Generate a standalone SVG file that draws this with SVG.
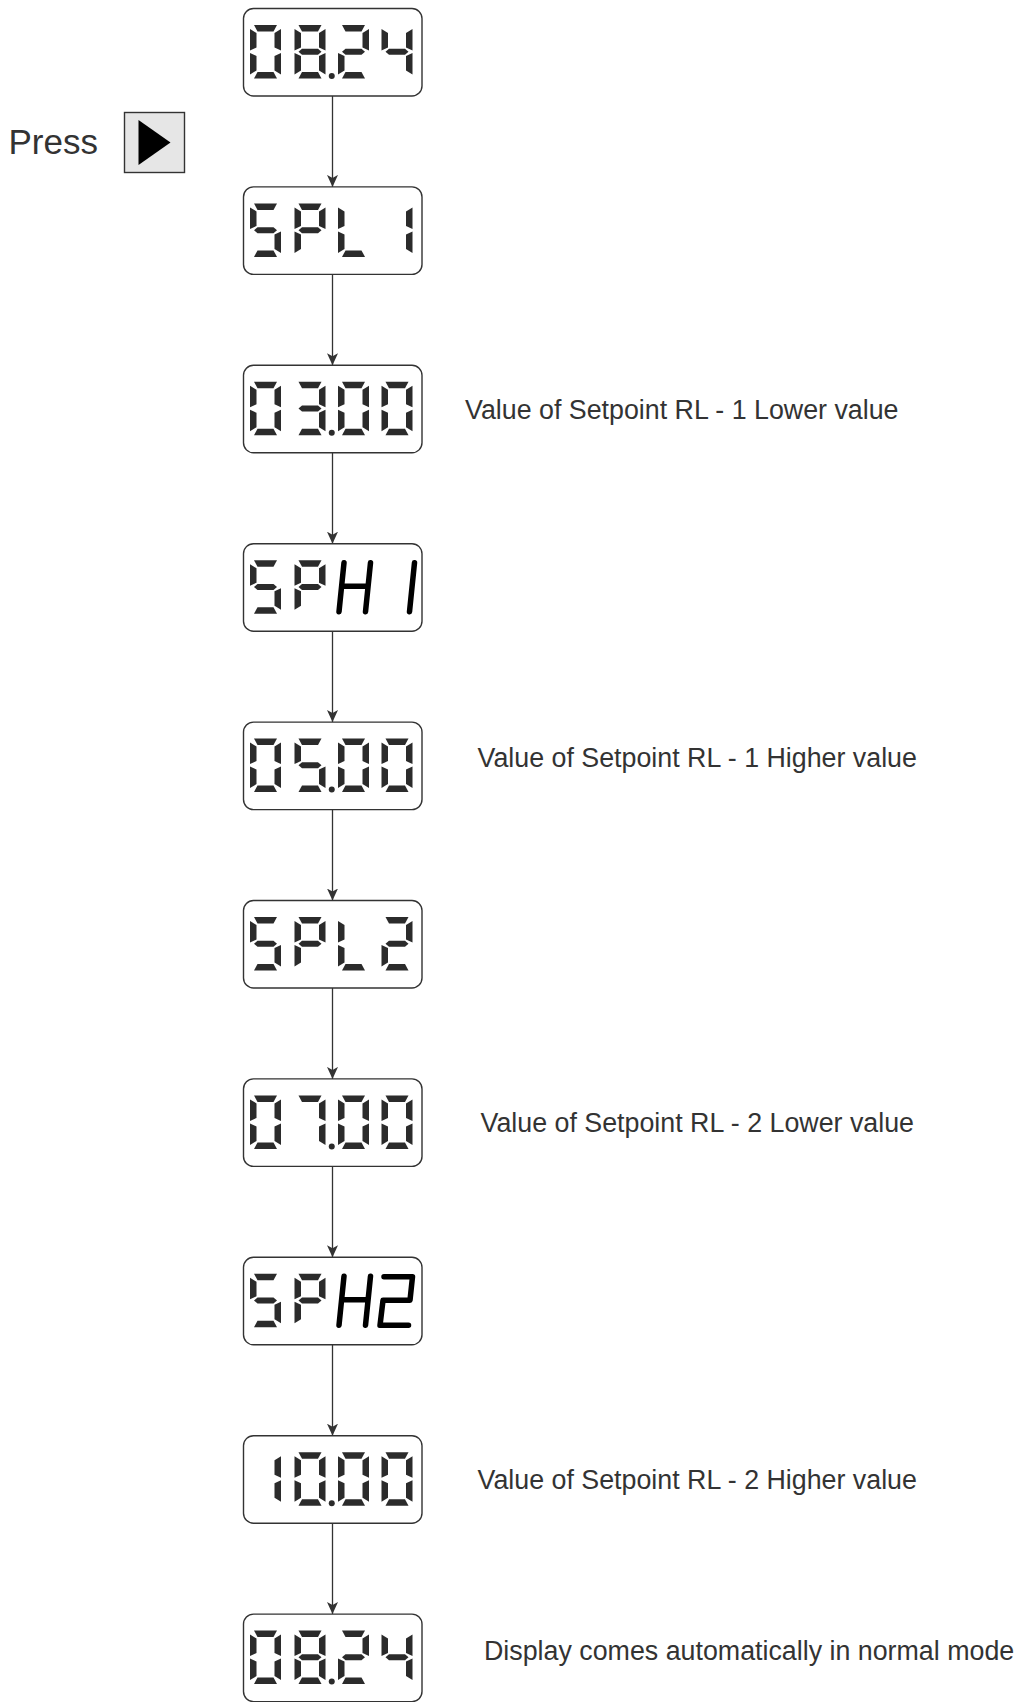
<svg xmlns="http://www.w3.org/2000/svg" xmlns:xlink="http://www.w3.org/1999/xlink" width="1019" height="1702" viewBox="0 0 1019 1702">
<style>
.box{fill:#fff;stroke:#333;stroke-width:1.4}
.seg{fill:#2b2b2b}
.ital{fill:none;stroke:#000;stroke-width:5.5;stroke-linecap:round;stroke-linejoin:round}
.conn{stroke:#333;stroke-width:1.3;fill:none}
.lbl{font-family:"Liberation Sans",Arial,sans-serif;font-size:26.8px;fill:#333}
.press{font-family:"Liberation Sans",Arial,sans-serif;font-size:35px;fill:#333}
</style>
<defs>
<marker id="arr" markerUnits="userSpaceOnUse" markerWidth="12" markerHeight="12" viewBox="0 0 12 12" refX="12" refY="6" orient="auto">
<path d="M0,0.5 L12,6 L0,11.5 L3,6 z" fill="#333"/>
</marker>
<polygon id="sa" class="seg" points="4,0 27,0 23.5,6.5 7.5,6.5"/>
<polygon id="sb" class="seg" points="31,4 31,25.5 24.5,22.5 24.5,8"/>
<polygon id="sc" class="seg" points="31,28 31,49.5 24.5,45.5 24.5,31"/>
<polygon id="sd" class="seg" points="7.5,47 23.5,47 27,53.5 4,53.5"/>
<polygon id="se" class="seg" points="0,28 6.5,31 6.5,45.5 0,49.5"/>
<polygon id="sf" class="seg" points="0,4 6.5,8 6.5,22.5 0,25.5"/>
<polygon id="sg" class="seg" points="4,26.75 7.5,23.75 23.5,23.75 27,26.75 23.5,29.75 7.5,29.75"/>
<g id="g0"><use href="#sa"/><use href="#sb"/><use href="#sc"/><use href="#sd"/><use href="#se"/><use href="#sf"/></g>
<g id="g1"><use href="#sb"/><use href="#sc"/></g>
<g id="g2"><use href="#sa"/><use href="#sb"/><use href="#sg"/><use href="#se"/><use href="#sd"/></g>
<g id="g3"><use href="#sa"/><use href="#sb"/><use href="#sg"/><use href="#sc"/><use href="#sd"/></g>
<g id="g4"><use href="#sf"/><use href="#sg"/><use href="#sb"/><use href="#sc"/></g>
<g id="g5"><use href="#sa"/><use href="#sf"/><use href="#sg"/><use href="#sc"/><use href="#sd"/></g>
<g id="g7"><use href="#sa"/><use href="#sb"/><use href="#sc"/></g>
<g id="g8"><use href="#sa"/><use href="#sb"/><use href="#sc"/><use href="#sd"/><use href="#se"/><use href="#sf"/><use href="#sg"/></g>
<g id="gP"><use href="#sa"/><use href="#sb"/><use href="#sf"/><use href="#sg"/><use href="#se"/></g>
<g id="gL"><use href="#sf"/><use href="#se"/><use href="#sd"/></g>
<circle id="dp" class="seg" r="3" cx="0" cy="0"/>
</defs>

<g id="press-label">
<text class="press" x="8.5" y="153.5">Press</text>
</g>
<g id="button">
<rect x="124.5" y="112.5" width="60" height="60" fill="#e6e6e6" stroke="#333" stroke-width="1.4"/>
<polygon points="138.5,120 170.5,142.5 138.5,165" fill="#000"/>
</g>

<g id="connectors">
<line class="conn" x1="332.5" y1="96" x2="332.5" y2="186.9" marker-end="url(#arr)"/>
<line class="conn" x1="332.5" y1="274.4" x2="332.5" y2="365.3" marker-end="url(#arr)"/>
<line class="conn" x1="332.5" y1="452.8" x2="332.5" y2="543.7" marker-end="url(#arr)"/>
<line class="conn" x1="332.5" y1="631.2" x2="332.5" y2="722.1" marker-end="url(#arr)"/>
<line class="conn" x1="332.5" y1="809.6" x2="332.5" y2="900.5" marker-end="url(#arr)"/>
<line class="conn" x1="332.5" y1="988" x2="332.5" y2="1078.9" marker-end="url(#arr)"/>
<line class="conn" x1="332.5" y1="1166.4" x2="332.5" y2="1257.3" marker-end="url(#arr)"/>
<line class="conn" x1="332.5" y1="1344.8" x2="332.5" y2="1435.7" marker-end="url(#arr)"/>
<line class="conn" x1="332.5" y1="1523.2" x2="332.5" y2="1614.1" marker-end="url(#arr)"/>
</g>

<g id="node-1">
<rect class="box" x="243.5" y="8.5" width="178.5" height="87.5" rx="10"/>
<use href="#g0" x="250" y="25"/><use href="#g8" x="294.5" y="25"/><use href="#dp" x="331.75" y="76"/><use href="#g2" x="338" y="25"/><use href="#g4" x="381.5" y="25"/>
</g>
<g id="node-2">
<rect class="box" x="243.5" y="186.9" width="178.5" height="87.5" rx="10"/>
<use href="#g5" x="250" y="203.4"/><use href="#gP" x="294.5" y="203.4"/><use href="#gL" x="338" y="203.4"/><use href="#g1" x="381.5" y="203.4"/>
</g>
<g id="node-3">
<rect class="box" x="243.5" y="365.3" width="178.5" height="87.5" rx="10"/>
<use href="#g0" x="250" y="381.8"/><use href="#g3" x="294.5" y="381.8"/><use href="#dp" x="331.75" y="432.8"/><use href="#g0" x="338" y="381.8"/><use href="#g0" x="381.5" y="381.8"/>
</g>
<g id="node-4">
<rect class="box" x="243.5" y="543.7" width="178.5" height="87.5" rx="10"/>
<use href="#g5" x="250" y="560.2"/><use href="#gP" x="294.5" y="560.2"/>
<path class="ital" d="M344,562.7 L339,611.7 M370.5,562.7 L365.5,611.7 M341.6,586.2 L368.1,586.2 M414.5,562.7 L409.5,611.7"/>
</g>
<g id="node-5">
<rect class="box" x="243.5" y="722.1" width="178.5" height="87.5" rx="10"/>
<use href="#g0" x="250" y="738.6"/><use href="#g5" x="294.5" y="738.6"/><use href="#dp" x="331.75" y="789.6"/><use href="#g0" x="338" y="738.6"/><use href="#g0" x="381.5" y="738.6"/>
</g>
<g id="node-6">
<rect class="box" x="243.5" y="900.5" width="178.5" height="87.5" rx="10"/>
<use href="#g5" x="250" y="917"/><use href="#gP" x="294.5" y="917"/><use href="#gL" x="338" y="917"/><use href="#g2" x="381.5" y="917"/>
</g>
<g id="node-7">
<rect class="box" x="243.5" y="1078.9" width="178.5" height="87.5" rx="10"/>
<use href="#g0" x="250" y="1095.4"/><use href="#g7" x="294.5" y="1095.4"/><use href="#dp" x="331.75" y="1146.4"/><use href="#g0" x="338" y="1095.4"/><use href="#g0" x="381.5" y="1095.4"/>
</g>
<g id="node-8">
<rect class="box" x="243.5" y="1257.3" width="178.5" height="87.5" rx="10"/>
<use href="#g5" x="250" y="1273.8"/><use href="#gP" x="294.5" y="1273.8"/>
<path class="ital" d="M344,1276.3 L339,1325.3 M370.5,1276.3 L365.5,1325.3 M341.6,1299.8 L368.1,1299.8"/>
<path class="ital" d="M384,1276.8 L412.5,1276.8 L410,1300.3 L383,1300.3 L380,1325.3 L408.5,1325.3"/>
</g>
<g id="node-9">
<rect class="box" x="243.5" y="1435.7" width="178.5" height="87.5" rx="10"/>
<use href="#g1" x="250" y="1452.2"/><use href="#g0" x="294.5" y="1452.2"/><use href="#dp" x="331.75" y="1503.2"/><use href="#g0" x="338" y="1452.2"/><use href="#g0" x="381.5" y="1452.2"/>
</g>
<g id="node-10">
<rect class="box" x="243.5" y="1614.1" width="178.5" height="87.5" rx="10"/>
<use href="#g0" x="250" y="1630.6"/><use href="#g8" x="294.5" y="1630.6"/><use href="#dp" x="331.75" y="1681.6"/><use href="#g2" x="338" y="1630.6"/><use href="#g4" x="381.5" y="1630.6"/>
</g>

<g id="labels">
<text class="lbl" x="465" y="418.5">Value of Setpoint RL - 1 Lower value</text>
<text class="lbl" x="477.5" y="767">Value of Setpoint RL - 1 Higher value</text>
<text class="lbl" x="480.5" y="1131.5">Value of Setpoint RL - 2 Lower value</text>
<text class="lbl" x="477.5" y="1488.5">Value of Setpoint RL - 2 Higher value</text>
<text class="lbl" x="484" y="1660">Display comes automatically in normal mode</text>
</g>
</svg>
